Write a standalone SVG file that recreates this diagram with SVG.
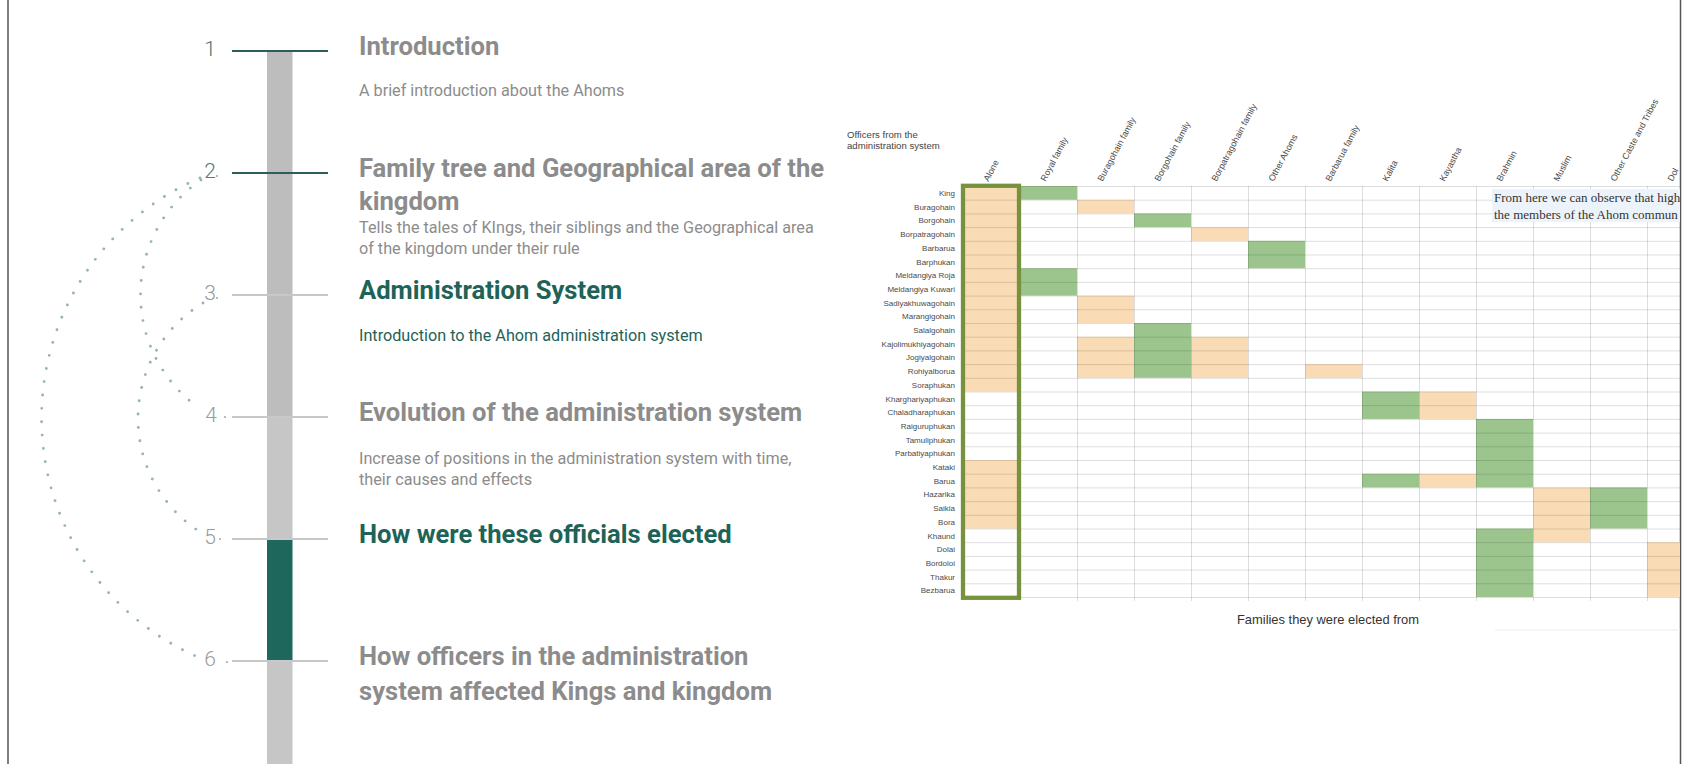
<svg xmlns="http://www.w3.org/2000/svg" width="1689" height="764" viewBox="0 0 1689 764">
<style>
.num{font-family:Roboto,"Liberation Sans",sans-serif;font-size:21px;font-weight:300;text-anchor:middle}
.h{font-family:Roboto,"Liberation Sans",sans-serif;font-size:25.6px;font-weight:700;fill:#8c8c8c}
.d{font-family:Roboto,"Liberation Sans",sans-serif;font-size:16.2px;fill:#8c8c8c}
.teal{fill:#1d6358}
.tk{stroke-width:2;fill:none}
.arc{fill:none;stroke:#96b4b4;stroke-width:2.9;stroke-linecap:round;stroke-dasharray:0 13.4}
.rl{font-family:"Liberation Sans",Arial,sans-serif;font-size:8px;fill:#4a4a4a;text-anchor:end}
.cl{font-family:"Liberation Sans",Arial,sans-serif;font-size:8.9px;fill:#4a4a4a}
.g{fill:#9cc58d}
.p{fill:#f9dcb5}
.grid{stroke:#000;stroke-opacity:0.13;stroke-width:1;fill:none}
</style>
<defs>
<clipPath id="rc"><rect x="0" y="0" width="1680" height="764"/></clipPath>
</defs>
<rect width="1689" height="764" fill="#fff"/>
<line x1="8" y1="0" x2="8" y2="764" stroke="#555" stroke-width="1.5"/>
<line x1="1680.5" y1="0" x2="1680.5" y2="764" stroke="#555" stroke-width="1.5"/>

<g id="timeline-bar">
<rect x="267" y="51" width="25.5" height="365" fill="#bdbdbd"/>
<rect x="267" y="416" width="25.5" height="124" fill="#c6c6c6"/>
<rect x="267" y="540" width="25.5" height="122" fill="#1d675c"/>
<rect x="267" y="662" width="25.5" height="102" fill="#c6c6c6"/>
</g>

<g id="connectors">
<path class="arc" d="M200,178 A261,261 0 0 0 200,658"/>
<path class="arc" d="M201,180 A139,139 0 0 0 199,408"/>
<path class="arc" d="M203,303 A135,135 0 0 0 197,530"/>
</g>

<g id="step1">
<line class="tk" x1="232" y1="51" x2="328" y2="51" stroke="#2a5f58"/>
<text class="num" x="210" y="56" fill="#4e7470">1</text>
<text class="h" x="359" y="55">Introduction</text>
<text class="d" x="359" y="96">A brief introduction about the Ahoms</text>
</g>
<g id="step2">
<line class="tk" x1="232" y1="173" x2="328" y2="173" stroke="#2a5f58"/>
<text class="num" x="210" y="178" fill="#5a7a78">2</text>
<circle cx="217" cy="176" r="1.1" fill="#9aa"/>
<text class="h" x="359" y="177">Family tree and Geographical area of the</text>
<text class="h" x="359" y="210">kingdom</text>
<text class="d" x="359" y="233">Tells the tales of KIngs, their siblings and the Geographical area</text>
<text class="d" x="359" y="254">of the kingdom under their rule</text>
</g>
<g id="step3">
<line class="tk" x1="232" y1="295" x2="328" y2="295" stroke="#c8c8c8"/>
<text class="num" x="210" y="300" fill="#959a9a">3</text>
<circle cx="217" cy="298" r="1.1" fill="#aaa"/>
<text class="h teal" x="359" y="299">Administration System</text>
<text class="d teal" x="359" y="341">Introduction to the Ahom administration system</text>
</g>
<g id="step4">
<line class="tk" x1="232" y1="417" x2="328" y2="417" stroke="#c8c8c8"/>
<text class="num" x="211" y="422" fill="#9a9a9a">4</text>
<circle cx="225" cy="417" r="1.1" fill="#aaa"/>
<text class="h" x="359" y="421">Evolution of the administration system</text>
<text class="d" x="359" y="464">Increase of positions in the administration system with time,</text>
<text class="d" x="359" y="485">their causes and effects</text>
</g>
<g id="step5">
<line class="tk" x1="232" y1="539" x2="328" y2="539" stroke="#c8c8c8"/>
<text class="num" x="210" y="544" fill="#9a9a9a">5</text>
<circle cx="220" cy="539" r="1.1" fill="#aaa"/>
<text class="h teal" x="359" y="543">How were these officials elected</text>
</g>
<g id="step6">
<line class="tk" x1="232" y1="661" x2="328" y2="661" stroke="#c8c8c8"/>
<text class="num" x="210" y="666" fill="#9a9a9a">6</text>
<circle cx="227" cy="662" r="1.1" fill="#aaa"/>
<text class="h" x="359" y="665">How officers in the administration</text>
<text class="h" x="359" y="700">system affected Kings and kingdom</text>
</g>

<g id="table" clip-path="url(#rc)">
<g id="cells">
<rect class="p" x="963" y="186" width="57" height="205.5"/>
<rect class="p" x="963" y="460" width="57" height="68.5"/>
<rect class="g" x="1020" y="186" width="57" height="13.7"/>
<rect class="g" x="1020" y="268.2" width="57" height="27.4"/>
<rect class="p" x="1077" y="199.7" width="57" height="13.7"/>
<rect class="p" x="1077" y="295.6" width="57" height="27.4"/>
<rect class="p" x="1077" y="336.7" width="57" height="41.1"/>
<rect class="g" x="1134" y="213.4" width="57" height="13.7"/>
<rect class="g" x="1134" y="323" width="57" height="54.8"/>
<rect class="p" x="1191" y="227.1" width="57" height="13.7"/>
<rect class="p" x="1191" y="336.7" width="57" height="41.1"/>
<rect class="g" x="1248" y="240.8" width="57" height="27.4"/>
<rect class="p" x="1305" y="364.1" width="57" height="13.7"/>
<rect class="g" x="1362" y="391.5" width="57" height="27.4"/>
<rect class="g" x="1362" y="473.7" width="57" height="13.7"/>
<rect class="p" x="1419" y="391.5" width="57" height="27.4"/>
<rect class="p" x="1419" y="473.7" width="57" height="13.7"/>
<rect class="g" x="1476" y="418.9" width="57" height="68.5"/>
<rect class="g" x="1476" y="528.5" width="57" height="68.5"/>
<rect class="p" x="1533" y="487.4" width="57" height="54.8"/>
<rect class="g" x="1590" y="487.4" width="57" height="41.1"/>
<rect class="p" x="1647" y="542.2" width="57" height="54.8"/>
</g>
<path class="grid" d="M963,186.5H1680M963,200.2H1680M963,213.9H1680M963,227.6H1680M963,241.3H1680M963,255H1680M963,268.7H1680M963,282.4H1680M963,296.1H1680M963,309.8H1680M963,323.5H1680M963,337.2H1680M963,350.9H1680M963,364.6H1680M963,378.3H1680M963,392H1680M963,405.7H1680M963,419.4H1680M963,433.1H1680M963,446.8H1680M963,460.5H1680M963,474.2H1680M963,487.9H1680M963,501.6H1680M963,515.3H1680M963,529H1680M963,542.7H1680M963,556.4H1680M963,570.1H1680M963,583.8H1680M963,597.5H1680
M1077.5,186V601M1134.5,186V601M1191.5,186V601M1248.5,186V601M1305.5,186V601M1362.5,186V601M1419.5,186V601M1476.5,186V601M1533.5,186V601M1590.5,186V601M1647.5,186V601"/>
<rect x="963" y="185.8" width="56" height="412" fill="none" stroke="#76923c" stroke-width="4.3"/>
<rect x="1492" y="189" width="190" height="33" fill="#edf3fa"/>
<text font-family="'Liberation Serif',serif" font-size="13" fill="#333"><tspan x="1494" y="202">From here we can observe that high</tspan><tspan x="1494" y="219">the members of the Ahom commun</tspan></text>
<g id="col-headers">
<text class="cl" transform="translate(988.5,182) rotate(-62)">Alone</text>
<text class="cl" transform="translate(1045.5,182) rotate(-62)">Royal family</text>
<text class="cl" transform="translate(1102.5,182) rotate(-62)">Buragohain family</text>
<text class="cl" transform="translate(1159.5,182) rotate(-62)">Borgohain family</text>
<text class="cl" transform="translate(1216.5,182) rotate(-62)">Borpatragohain family</text>
<text class="cl" transform="translate(1273.5,182) rotate(-62)">Other Ahoms</text>
<text class="cl" transform="translate(1330.5,182) rotate(-62)">Barbarua family</text>
<text class="cl" transform="translate(1387.5,182) rotate(-62)">Kalita</text>
<text class="cl" transform="translate(1444.5,182) rotate(-62)">Kayastha</text>
<text class="cl" transform="translate(1501.5,182) rotate(-62)">Brahmin</text>
<text class="cl" transform="translate(1558.5,182) rotate(-62)">Muslim</text>
<text class="cl" transform="translate(1615.5,182) rotate(-62)">Other Caste and Tribes</text>
<text class="cl" transform="translate(1672.5,182) rotate(-62)">Dol</text>
</g>
<line x1="1495" y1="630" x2="1680" y2="630" stroke="#ececec" stroke-width="1"/>
</g>

<g id="row-labels">
<text class="rl" x="955" y="196">King</text>
<text class="rl" x="955" y="209.7">Buragohain</text>
<text class="rl" x="955" y="223.4">Borgohain</text>
<text class="rl" x="955" y="237.1">Borpatragohain</text>
<text class="rl" x="955" y="250.8">Barbarua</text>
<text class="rl" x="955" y="264.5">Barphukan</text>
<text class="rl" x="955" y="278.2">Meldangiya Roja</text>
<text class="rl" x="955" y="291.9">Meldangiya Kuwari</text>
<text class="rl" x="955" y="305.6">Sadiyakhuwagohain</text>
<text class="rl" x="955" y="319.3">Marangigohain</text>
<text class="rl" x="955" y="333">Salalgohain</text>
<text class="rl" x="955" y="346.7">Kajolimukhiyagohain</text>
<text class="rl" x="955" y="360.4">Jogiyalgohain</text>
<text class="rl" x="955" y="374.1">Rohiyalborua</text>
<text class="rl" x="955" y="387.8">Soraphukan</text>
<text class="rl" x="955" y="401.5">Kharghariyaphukan</text>
<text class="rl" x="955" y="415.2">Chaladharaphukan</text>
<text class="rl" x="955" y="428.9">Raiguruphukan</text>
<text class="rl" x="955" y="442.6">Tamuliphukan</text>
<text class="rl" x="955" y="456.3">Parbatiyaphukan</text>
<text class="rl" x="955" y="470">Kataki</text>
<text class="rl" x="955" y="483.7">Barua</text>
<text class="rl" x="955" y="497.4">Hazarika</text>
<text class="rl" x="955" y="511.1">Saikia</text>
<text class="rl" x="955" y="524.8">Bora</text>
<text class="rl" x="955" y="538.5">Khaund</text>
<text class="rl" x="955" y="552.2">Dolai</text>
<text class="rl" x="955" y="565.9">Bordoloi</text>
<text class="rl" x="955" y="579.6">Thakur</text>
<text class="rl" x="955" y="593.3">Bezbarua</text>
</g>
<g id="axis-titles">
<text font-family="'Liberation Sans',Arial,sans-serif" font-size="9.6" fill="#444"><tspan x="847" y="138">Officers from the</tspan><tspan x="847" y="148.5">administration system</tspan></text>
<text font-family="'Liberation Sans',Arial,sans-serif" font-size="12.9" fill="#333" x="1237" y="624">Families they were elected from</text>
</g>
</svg>
